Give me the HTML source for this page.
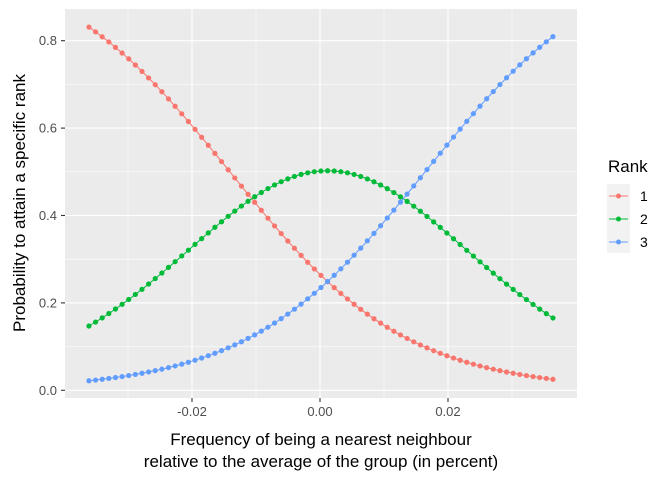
<!DOCTYPE html><html><head><style>body{margin:0;background:#fff}svg{display:block;font-family:"Liberation Sans",sans-serif}</style></head><body>
<svg id="s" width="672" height="480" xmlns="http://www.w3.org/2000/svg">
<rect x="65" y="9" width="512" height="389" fill="#EBEBEB"/>
<g stroke="#fff" stroke-width="0.55">
<line x1="65" x2="577" y1="346.6" y2="346.6"/><line x1="65" x2="577" y1="259.2" y2="259.2"/><line x1="65" x2="577" y1="171.8" y2="171.8"/><line x1="65" x2="577" y1="84.4" y2="84.4"/>
<line y1="9" y2="398" x1="128" x2="128"/><line y1="9" y2="398" x1="256" x2="256"/><line y1="9" y2="398" x1="384" x2="384"/><line y1="9" y2="398" x1="512" x2="512"/>
</g>
<g stroke="#fff" stroke-width="1.1">
<line x1="65" x2="577" y1="390.3" y2="390.3"/><line x1="65" x2="577" y1="302.9" y2="302.9"/><line x1="65" x2="577" y1="215.5" y2="215.5"/><line x1="65" x2="577" y1="128.1" y2="128.1"/><line x1="65" x2="577" y1="40.7" y2="40.7"/>
<line y1="9" y2="398" x1="192" x2="192"/><line y1="9" y2="398" x1="320" x2="320"/><line y1="9" y2="398" x1="448" x2="448"/>
</g>
<g stroke="#333" stroke-width="1.1">
<line x1="61" x2="65" y1="390.3" y2="390.3"/><line x1="61" x2="65" y1="302.9" y2="302.9"/><line x1="61" x2="65" y1="215.5" y2="215.5"/><line x1="61" x2="65" y1="128.1" y2="128.1"/><line x1="61" x2="65" y1="40.7" y2="40.7"/>
<line y1="398" y2="402" x1="192" x2="192"/><line y1="398" y2="402" x1="320" x2="320"/><line y1="398" y2="402" x1="448" x2="448"/>
</g>
<g fill="#4D4D4D" font-size="13" text-anchor="end">
<text x="57" y="395">0.0</text><text x="57" y="307.5">0.2</text><text x="57" y="220">0.4</text><text x="57" y="132.5">0.6</text><text x="57" y="45">0.8</text>
</g>
<g fill="#4D4D4D" font-size="13" text-anchor="middle">
<text x="192" y="416">-0.02</text><text x="320" y="416">0.00</text><text x="448" y="416">0.02</text>
</g>
<g font-size="17" text-anchor="middle" fill="#000">
<text x="321" y="445">Frequency of being a nearest neighbour</text>
<text x="321" y="467">relative to the average of the group (in percent)</text>
<text transform="translate(25,203) rotate(-90)">Probability to attain a specific rank</text>
</g>
<text x="608" y="172" font-size="17">Rank</text>
<rect x="607" y="184" width="23" height="69" fill="#F2F2F2"/>
<g stroke-width="1"><line x1="609" x2="628" y1="196" y2="196" stroke="#F8766D"/><line x1="609" x2="628" y1="219" y2="219" stroke="#00BA38"/><line x1="609" x2="628" y1="242" y2="242" stroke="#619CFF"/></g>
<circle cx="618.5" cy="196" r="2.5" fill="#F8766D"/><circle cx="618.5" cy="219" r="2.5" fill="#00BA38"/><circle cx="618.5" cy="242" r="2.5" fill="#619CFF"/>
<g font-size="14" fill="#000"><text x="640" y="201">1</text><text x="640" y="224">2</text><text x="640" y="247">3</text></g>
<g id="d"></g>
</svg>
<script>
var g=document.getElementById('d'),ns="http://www.w3.org/2000/svg";
function L(z){return 1/(1+Math.exp(-z));}
var b=72.4,c1=-1.02,c2=1.19,N=70,cols=["#F8766D","#00BA38","#619CFF"];
var pts=[[],[],[]];
for(var i=0;i<=N;i++){var x=-0.0361+i*(0.0725/N);var a=L(c1-b*x),c=L(c2-b*x);var p=[a,c-a,1-c];
var px=320+x*6400;for(var k=0;k<3;k++)pts[k].push([px,390.3-p[k]*437]);}
for(var k=0;k<3;k++){var pl=document.createElementNS(ns,'polyline');pl.setAttribute('points',pts[k].map(function(q){return q[0].toFixed(1)+','+q[1].toFixed(1)}).join(' '));pl.setAttribute('fill','none');pl.setAttribute('stroke',cols[k]);pl.setAttribute('stroke-width','1');g.appendChild(pl);
pts[k].forEach(function(q){var c=document.createElementNS(ns,'circle');c.setAttribute('cx',q[0]);c.setAttribute('cy',q[1]);c.setAttribute('r','2.6');c.setAttribute('fill',cols[k]);g.appendChild(c);});}
</script>
</body></html>
